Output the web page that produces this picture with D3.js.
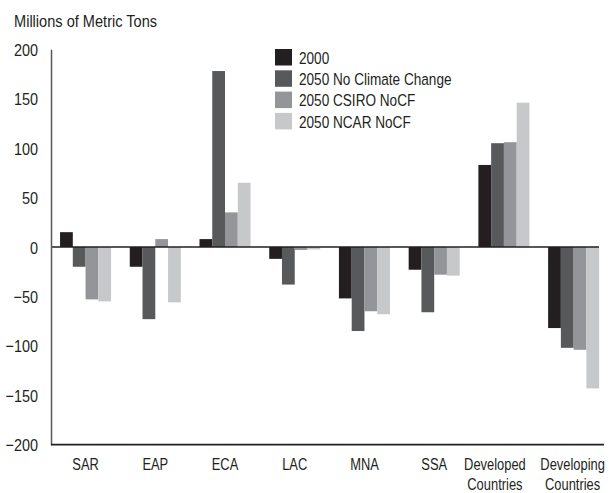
<!DOCTYPE html>
<html>
<head>
<meta charset="utf-8">
<script src="https://cdn.jsdelivr.net/npm/d3@7"></script>
<style>
  html, body { margin: 0; padding: 0; background: #fff; }
  svg text { font-family: 'Liberation Sans', Arial, sans-serif; fill: #231f20; }
</style>
</head>
<body>
<svg id="chart" width="609" height="493"></svg>
<script>
const categories = ["SAR", "EAP", "ECA", "LAC", "MNA", "SSA", "Developed Countries", "Developing Countries"];
const seriesNames = ["2000", "2050 No Climate Change", "2050 CSIRO NoCF", "2050 NCAR NoCF"];
const s2000 = [15, -20, 8, -12, -52, -23, 83, -82];
const sNoCC = [-20, -73, 178, -38, -85, -66, 105, -102];
const sCSIRO = [-53, 8, 35, -3, -65, -28, 106, -104];
const sNCAR = [-55, -56, 65, -2.5, -68, -29, 146, -143];
const yTicks = [200, 150, 100, 50, 0, -50, -100, -150, -200];
const colors = ["#231f20", "#58595b", "#939598", "#c7c8ca"];

const seriesValues = [s2000, sNoCC, sCSIRO, sNCAR];
const svg = d3.select("#chart");

// condense text horizontally (reference uses a condensed face)
function condense(sel, factor) {
  sel.each(function() {
    const t = d3.select(this);
    const x = +t.attr("x") || 0, yy = +t.attr("y") || 0;
    t.attr("x", 0).attr("y", 0).attr("transform", `translate(${x},${yy}) scale(${factor},1)`);
  });
}

const x0 = d3.scaleBand().domain(categories).range([50.7, 608.5]).paddingInner(0.268).paddingOuter(0.134);
const x1 = d3.scaleBand().domain(seriesNames).range([0, x0.bandwidth()]);
const y = d3.scaleLinear().domain([-200, 200]).range([444.7, 49.3]);

// title
svg.append("text").attr("x", 14).attr("y", 27).attr("font-size", 17).text("Millions of Metric Tons")
  .call(condense, 0.858);

// bars
categories.forEach((c, i) => {
  const g = svg.append("g").attr("transform", `translate(${x0(c)},0)`);
  seriesNames.forEach((s, j) => {
    const v = seriesValues[j][i];
    g.append("rect")
      .attr("x", x1(s))
      .attr("width", x1.bandwidth())
      .attr("y", y(Math.max(0, v)))
      .attr("height", Math.abs(y(v) - y(0)))
      .attr("fill", colors[j]);
  });
});

// zero line
svg.append("line").attr("x1", 51).attr("x2", 599).attr("y1", y(0)).attr("y2", y(0))
  .attr("stroke", "#231f20").attr("stroke-width", 1.3);

// y axis
const yAxis = d3.axisLeft(y).tickValues(yTicks).tickSize(0).tickPadding(13).tickFormat(d3.format("d"));
const ya = svg.append("g").attr("transform", "translate(51,0)").call(yAxis);
ya.select(".domain").attr("stroke", "#58595b").attr("stroke-width", 1.5);
ya.selectAll("text").attr("font-size", 17).attr("font-family", null).attr("fill", "#231f20").attr("dy", "0.36em")
  .call(condense, 0.85);

// x axis
const xAxis = d3.axisBottom(x0).tickSize(0).tickPadding(0);
const xa = svg.append("g").attr("transform", `translate(0,${y(-200)})`).call(xAxis);
xa.select(".domain").attr("d", "M51,0H604").attr("stroke", "#231f20").attr("stroke-width", 1.8);
xa.selectAll(".tick").each(function(d) {
  const tick = d3.select(this);
  tick.select("text").remove();
  const shift = d === "Developed Countries" ? -9 : (d === "Developing Countries" ? -1 : 0);
  d.split(" ").forEach((w, k) => {
    tick.append("text")
      .attr("x", shift).attr("y", 25 + k * 20)
      .attr("text-anchor", "middle")
      .attr("font-size", 17)
      .attr("fill", "#231f20")
      .text(w)
      .call(condense, 0.76);
  });
});

// legend
const legend = svg.append("g").attr("transform", "translate(275,49)");
seriesNames.forEach((s, j) => {
  const row = legend.append("g").attr("transform", `translate(0,${j * 21.3})`);
  row.append("rect").attr("width", 17).attr("height", 16.5).attr("fill", colors[j]);
  row.append("text").attr("x", 24).attr("y", 8.5).attr("dy", "0.36em").attr("font-size", 17).text(s)
    .call(condense, 0.8);
});
</script>
</body>
</html>
